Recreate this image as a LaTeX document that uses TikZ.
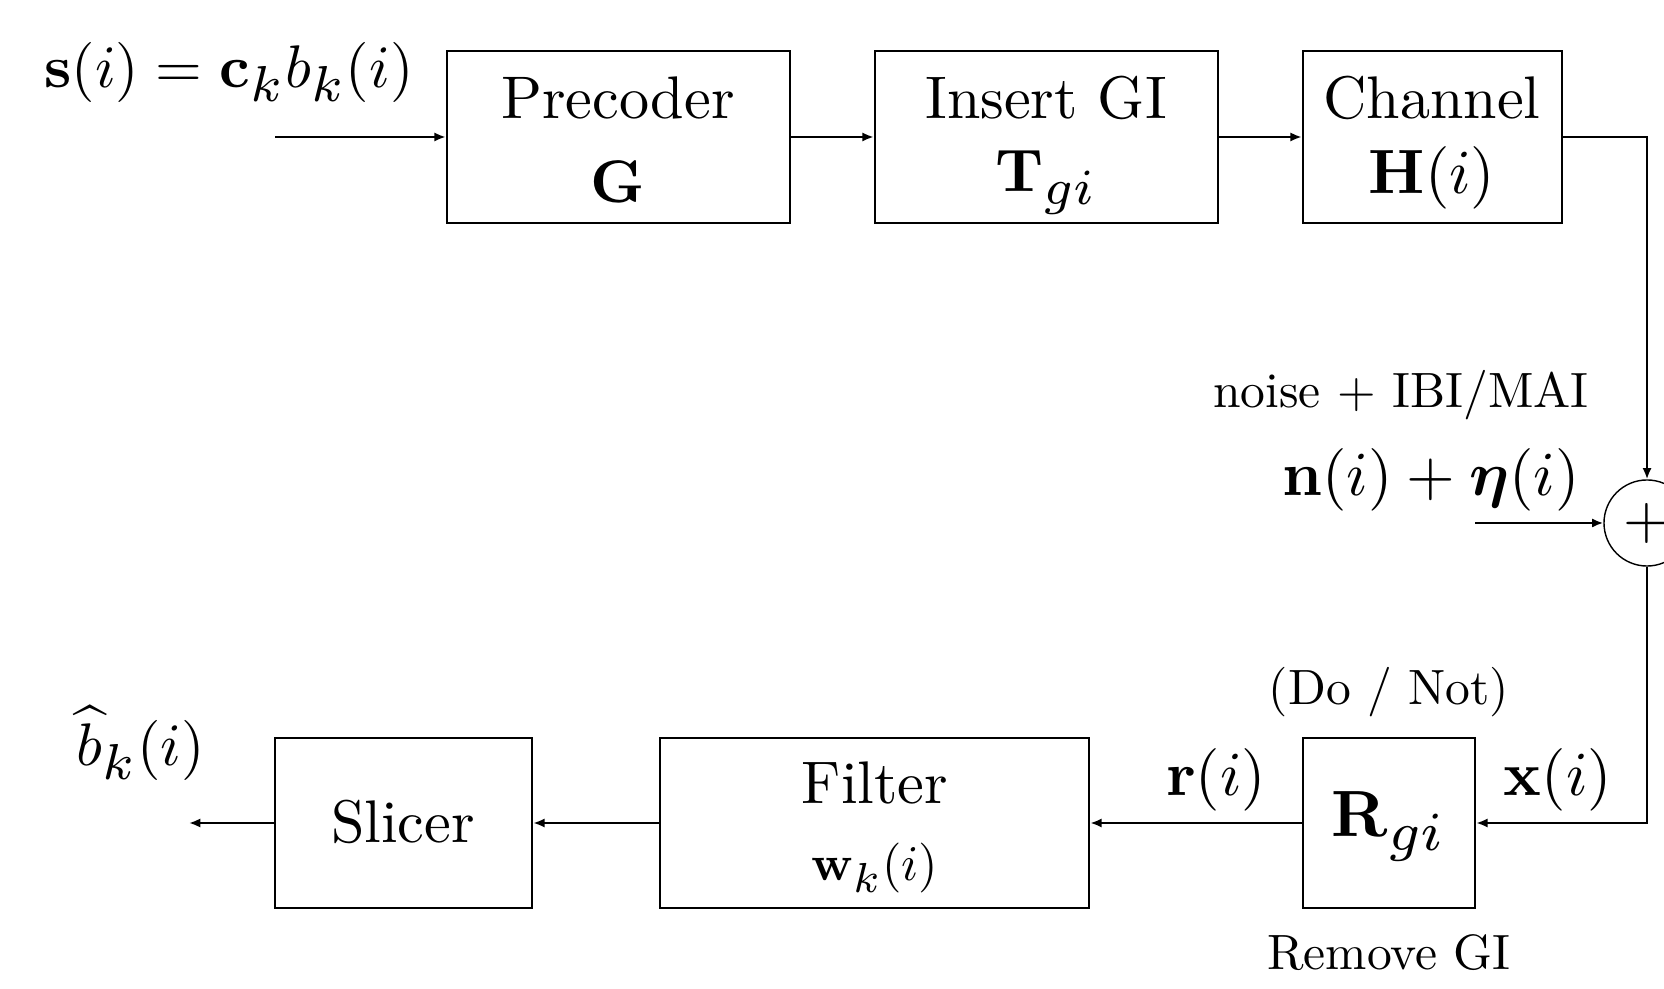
\documentclass[tikz,border=0pt]{standalone}
\usepackage{amsmath,bm}
\usetikzlibrary{arrows.meta}
\newcommand{\txtL}[1]{\scalebox{1.71}{#1}}
\newcommand{\txtM}[1]{\scalebox{1.78}{#1}}
\newcommand{\txtS}[1]{\scalebox{1.41}{#1}}
\newcommand{\txtW}[1]{\scalebox{1.42}{#1}}
\newcommand{\txtB}[1]{\scalebox{1.86}{#1}}
\newcommand{\subs}[1]{\scalebox{1.2}{$\scriptstyle #1$}}
\tikzset{
  blk/.style={draw, line width=0.7pt, inner sep=0pt},
  lbl/.style={inner sep=0pt, font=\fontsize{10}{12}\selectfont},
  con/.style={line width=0.6pt},
  arr/.style={con, -{Latex[length=3.2pt,width=2.6pt]}},
}
\begin{document}
\begin{tikzpicture}[x=0.01cm,y=-0.01cm]
\useasboundingbox (0,0) rectangle (1664,989);
% top row
\node[blk, minimum width=3.43cm, minimum height=1.72cm] (pre) at (618.5,137) {};
\node[blk, minimum width=3.43cm, minimum height=1.72cm] (ins) at (1046.5,137) {};
\node[blk, minimum width=2.59cm, minimum height=1.72cm] (chan) at (1432.5,137) {};
% adder
\node[draw, circle, line width=0.4pt, minimum size=0.86cm, inner sep=0pt, font=\fontsize{10}{12}\selectfont] (add) at (1647,523) {\txtL{$+$}};
% bottom row
\node[blk, minimum width=1.72cm, minimum height=1.70cm] (rgi) at (1389,823) {};
\node[blk, minimum width=4.29cm, minimum height=1.70cm] (filt) at (874.5,823) {};
\node[blk, minimum width=2.57cm, minimum height=1.70cm] (slic) at (403.5,823) {};
% free ends / corners
\coordinate (in) at (275,137);
\coordinate (out) at (189,823);
\coordinate (nz) at (1475,523);
\coordinate (c1) at (1647,137);
\coordinate (c2) at (1647,823);
% connectors
\draw[arr] (in) -- (pre.west);
\draw[arr] (pre.east) -- (ins.west);
\draw[arr] (ins.east) -- (chan.west);
\draw[arr] (chan.east) -- (c1) -- (add.north);
\draw[arr] (nz) -- (add.west);
\draw[arr] (add.south) -- (c2) -- (rgi.east);
\draw[arr] (rgi.west) -- (filt.east);
\draw[arr] (filt.west) -- (slic.east);
\draw[arr] (slic.west) -- (out);
% labels
\node[lbl] (tin) at (229,72) {\txtL{$\mathbf{s}(i)=\mathbf{c}_{\subs{k}} b_{\subs{k}}(i)$}};
\node[lbl] (tpre1) at (618,98) {\txtL{Precoder}};
\node[lbl] (tpre2) at (618,182) {\txtL{$\mathbf{G}$}};
\node[lbl] (tins1) at (1046,98) {\txtL{Insert GI}};
\node[lbl] (tins2) at (1046,182) {\txtL{$\mathbf{T}_{\subs{gi}}$}};
\node[lbl] (tch1) at (1432,98) {\txtL{Channel}};
\node[lbl] (tch2) at (1432,178) {\txtM{$\mathbf{H}(i)$}};
\node[lbl] (tnz1) at (1401,395) {\txtS{noise $+$ IBI/MAI}};
\node[lbl] (tnz2) at (1431,480) {\txtM{$\mathbf{n}(i)+\bm{\eta}(i)$}};
\node[lbl] (tdo) at (1389,692) {\txtS{(Do / Not)}};
\node[lbl] (trm) at (1389,953) {\txtS{Remove GI}};
\node[lbl] (trgi) at (1389,826) {\txtB{$\mathbf{R}_{\subs{gi}}$}};
\node[lbl] (tr) at (1216,780) {\txtM{$\mathbf{r}(i)$}};
\node[lbl] (tx) at (1558,780) {\txtM{$\mathbf{x}(i)$}};
\node[lbl] (tf1) at (875,783) {\txtL{Filter}};
\node[lbl] (tf2) at (875,868) {\txtW{$\mathbf{w}_{\subs{k}}(i)$}};
\node[lbl] (tsl) at (403,822) {\txtL{Slicer}};
\node[lbl] (tb) at (141,743) {\txtL{$\widehat{b}_{\subs{k}}(i)$}};
\end{tikzpicture}
\end{document}
